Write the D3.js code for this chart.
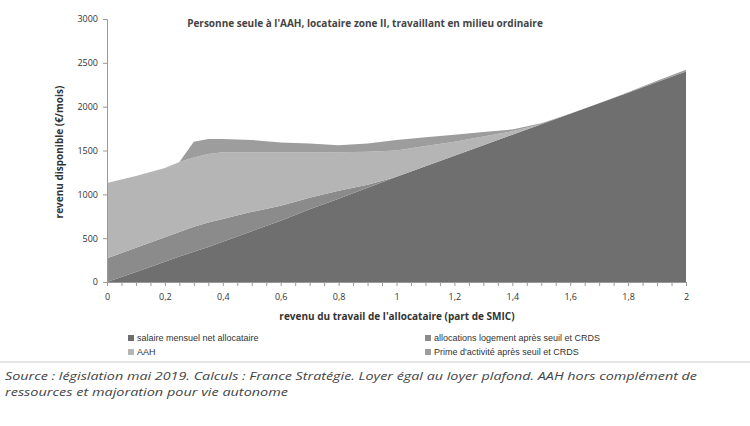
<!DOCTYPE html><html><head><meta charset="utf-8"><script src="https://cdn.jsdelivr.net/npm/d3@7"></script>
<style>body{margin:0;background:#fff;font-family:"Open Sans",sans-serif}</style></head><body><svg id="c" width="750" height="426"></svg>
<script>
const xs=[0,0.1,0.2,0.25,0.3,0.35,0.4,0.5,0.6,0.7,0.8,0.9,1.0,1.1,1.2,1.3,1.4,1.5,1.6,1.7,1.8,1.9,2.0];
const salaire=[0,115,230,290,345,400,460,580,700,830,950,1075,1200,1320,1440,1560,1680,1800,1920,2040,2160,2280,2400];
const logement=[270,275,280,280,285,280,260,220,170,130,90,35,0,0,0,0,0,0,0,0,0,0,0];
const aah=[860,820,790,800,790,780,760,680,610,520,440,375,300,230,160,100,40,0,0,0,0,0,0];
const prime=[0,0,0,0,180,170,150,140,110,100,80,95,120,100,80,50,20,10,0,0,5,15,20];
const xTicks=[0,0.2,0.4,0.6,0.8,1,1.2,1.4,1.6,1.8,2];
const yTicks=[0,500,1000,1500,2000,2500,3000];
const names=["salaire mensuel net allocataire","allocations logement après seuil et CRDS","AAH","Prime d'activité après seuil et CRDS"];
const colors=["#6f6f6f","#8b8b8b","#b5b5b5","#9d9d9d"];
const svg=d3.select("#c");
const x=d3.scaleLinear().domain([0,2]).range([107,686]);
const y=d3.scaleLinear().domain([0,3000]).range([282,19]);
const rows=xs.map((v,i)=>({x:v,s0:salaire[i],s1:logement[i],s2:aah[i],s3:prime[i]}));
const stack=d3.stack().keys(["s0","s1","s2","s3"])(rows);
const area=d3.area().x(d=>x(d.data.x)).y0(d=>y(d[0])).y1(d=>y(d[1]));
svg.selectAll("path.a").data(stack).join("path").attr("d",area).attr("fill",(d,i)=>colors[i]);
const fmt=d=>String(d).replace(".",",");
svg.append("g").attr("transform","translate(0,282)").call(d3.axisBottom(x).tickValues(d3.range(0,2.0001,0.05)).tickSize(4).tickFormat(""));
svg.append("g").attr("transform","translate(0,282)").call(d3.axisBottom(x).tickValues(xTicks).tickSize(0).tickPadding(12).tickFormat(fmt)).call(g=>g.select(".domain").remove());
svg.append("g").attr("transform","translate(107,0)").call(d3.axisLeft(y).tickValues(yTicks).tickSize(4).tickPadding(5).tickFormat(d=>String(d)));
svg.selectAll(".domain,.tick line").attr("stroke","#999");
svg.selectAll(".tick text").attr("font-size",9).attr("fill","#333").attr("font-family","Open Sans");
svg.append("text").attr("x",365).attr("y",27).attr("text-anchor","middle").attr("font-size",10).attr("font-weight","bold").attr("fill","#444").text("Personne seule à l'AAH, locataire zone II,  travaillant  en milieu ordinaire");
svg.append("text").attr("transform","translate(63,152) rotate(-90)").attr("text-anchor","middle").attr("font-size",10).attr("font-weight","bold").attr("fill","#333").text("revenu disponible (€/mois)");
svg.append("text").attr("x",397).attr("y",320).attr("text-anchor","middle").attr("font-size",10).attr("font-weight","bold").attr("fill","#333").text("revenu du travail de l'allocataire  (part de SMIC)");
const lp=[[128,341],[425,341],[128,355],[425,355]];
names.forEach((n,i)=>{const g=svg.append("g").attr("transform",`translate(${lp[i][0]},${lp[i][1]})`);
g.append("rect").attr("x",0).attr("y",-6).attr("width",6).attr("height",6).attr("fill",colors[i]);
g.append("text").attr("x",9).attr("y",0).attr("font-size",9).attr("fill","#333").attr("font-family","Liberation Sans Narrow, Liberation Sans").text(n);});
svg.append("line").attr("x1",0).attr("x2",750).attr("y1",362).attr("y2",362).attr("stroke","#ccc");
svg.append("text").attr("x",5).attr("y",380).attr("font-size",11.5).attr("font-style","italic").attr("fill","#444").attr("textLength",692).attr("lengthAdjust","spacingAndGlyphs").text("Source : législation mai 2019. Calculs : France Stratégie. Loyer égal au loyer plafond. AAH hors complément de");
svg.append("text").attr("x",5).attr("y",396).attr("font-size",11.5).attr("font-style","italic").attr("fill","#444").attr("textLength",283).attr("lengthAdjust","spacingAndGlyphs").text("ressources et majoration pour vie autonome");
</script></body></html>
